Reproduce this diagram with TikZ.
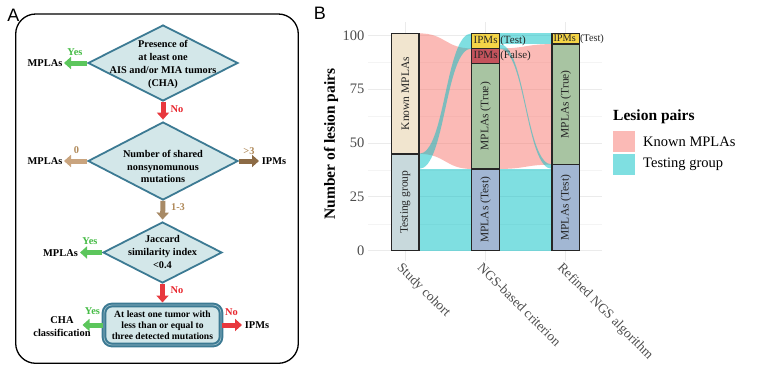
\documentclass[tikz,border=0pt]{standalone}
\usepackage{fontspec}
\setmainfont{Liberation Serif}
\setsansfont{Liberation Sans}
\usetikzlibrary{shapes.geometric,arrows.meta}
\definecolor{diafill}{HTML}{D3E7E9}
\definecolor{diaborder}{HTML}{3C7A93}
\definecolor{ygreen}{HTML}{45BB45}
\definecolor{agreen}{HTML}{5CC65C}
\definecolor{nred}{HTML}{E8262E}
\definecolor{ared}{HTML}{E8383E}
\definecolor{tant}{HTML}{B08A5A}
\definecolor{tanl}{HTML}{C9A47E}
\definecolor{tand}{HTML}{8C6B45}
\definecolor{tanm}{HTML}{A88A66}
\definecolor{pinkf}{HTML}{F8766D}
\definecolor{cyanf}{HTML}{00BFC4}
\definecolor{kmfill}{HTML}{F1E5CF}
\definecolor{tgfill}{HTML}{C8D9DC}
\definecolor{mtest}{HTML}{A2B7D3}
\definecolor{mtrue}{HTML}{A8C4A2}
\definecolor{ipfalse}{HTML}{C4535C}
\definecolor{iptest}{HTML}{F5D547}
\definecolor{axgray}{HTML}{4D4D4D}
\definecolor{gridmaj}{HTML}{EBEBEB}
\definecolor{gridmin}{HTML}{F4F4F4}
\begin{document}
\begin{tikzpicture}[x=1pt,y=-1pt,
  dia/.style={diamond, draw=diaborder, fill=diafill, line width=1.8pt, inner sep=0pt},
  dtxt/.style={font=\fontsize{10.3}{12.7}\selectfont\bfseries, align=center, inner sep=0pt},
  lbl/.style={font=\fontsize{10.4}{12.7}\selectfont\bfseries, align=center, inner sep=0pt},
  blockarrow/.style={line width=5pt, -{Triangle[width=12pt,length=7pt]}},
  garrow/.style={blockarrow, draw=agreen},
  rarrow/.style={blockarrow, draw=ared},
  yeslbl/.style={lbl, text=ygreen},
  nolbl/.style={lbl, text=nred},
  tanlbl/.style={lbl, text=tant},
  panellbl/.style={font=\sffamily\fontsize{18}{20}\selectfont, inner sep=0pt},
  gmajor/.style={draw=gridmaj, line width=0.9pt},
  gminor/.style={draw=gridmin, line width=0.6pt},
  ytick/.style={font=\fontsize{14.5}{16}\selectfont, text=axgray, inner sep=0pt, anchor=east},
  xlab/.style={font=\fontsize{13.5}{15}\selectfont, text=axgray, inner sep=0pt, rotate=-45, anchor=north west},
  bar/.style={draw=black!85, line width=1.4pt},
  barlbl/.style={font=\fontsize{11.5}{13}\selectfont, text=black!85, inner sep=0pt, rotate=90},
  smlbl/.style={font=\fontsize{11}{12}\selectfont, text=black!85, inner sep=0pt, anchor=west},
  pinkflow/.style={fill=pinkf, fill opacity=0.5},
  cyanflow/.style={fill=cyanf, fill opacity=0.5},
  leglbl/.style={font=\fontsize{14.5}{16}\selectfont, inner sep=0pt, anchor=west}
]
\useasboundingbox (0,0) rectangle (764,378);

% ================= Panel A =================
\node[panellbl] (labA) at (13.5,15.5) {A};
\draw[line width=1.3pt, rounded corners=20pt] (15.7,14) rectangle (298.3,363.3);

\node[dia, minimum width=150pt, minimum height=76pt] (d1) at (163,63) {};
\node[dtxt] (t1) at (163,64.5) {Presence of\\at least one\\AIS and/or MIA tumors\\(CHA)};

\node[dia, minimum width=150pt, minimum height=78pt] (d2) at (163,161) {};
\node[dtxt] (t2) at (163,166.5) {Number of shared\\nonsynomunous\\mutations};

\node[dia, minimum width=119pt, minimum height=61pt] (d3) at (162.5,252.5) {};
\node[dtxt] (t3) at (162.5,252) {Jaccard\\similarity index\\\textless0.4};

\node[draw=diaborder, fill=diafill, line width=2pt, double=diafill!60!diaborder, double distance=0.7pt,
      rounded corners=8pt, minimum width=117pt, minimum height=40pt, inner sep=0pt] (bx) at (162.5,325) {};
\node[dtxt, font=\fontsize{9.6}{11.3}\selectfont\bfseries] (tb) at (162.5,325.3) {At least one tumor with\\less than or equal to\\three detected mutations};

% side labels
\node[lbl] (m1) at (45,63.5) {MPLAs};
\node[yeslbl] (y1) at (75,52) {Yes};
\node[nolbl] (n1) at (177,109.5) {No};
\node[lbl] (m2) at (45,161.5) {MPLAs};
\node[tanlbl] (z2) at (76.5,150.5) {0};
\node[tanlbl] (g2) at (249,151) {\textgreater3};
\node[lbl] (i2) at (274,161.5) {IPMs};
\node[tanlbl] (r2) at (178,207) {1-3};
\node[lbl] (m3) at (60.5,253) {MPLAs};
\node[yeslbl] (y3) at (90,241.5) {Yes};
\node[nolbl] (n3) at (177,290.5) {No};
\node[yeslbl] (y4) at (92.5,311) {Yes};
\node[lbl] (c4) at (62,326.5) {CHA\\classification};
\node[nolbl] (n4) at (231.5,312.5) {No};
\node[lbl] (i4) at (257,325) {IPMs};

% arrow ends
\coordinate (e1) at (64,63);
\coordinate (e2) at (64,161);
\coordinate (e3) at (259,161);
\coordinate (e4) at (80,252.5);
\coordinate (e5) at (82.5,325);
\coordinate (e6) at (242,325);

\draw[garrow] (d1.west) -- (e1);
\draw[rarrow, shorten >=1.5pt] (d1.south) -- (d2.north);
\draw[blockarrow, draw=tanl] (d2.west) -- (e2);
\draw[blockarrow, draw=tand] (d2.east) -- (e3);
\draw[blockarrow, draw=tanm, shorten >=1.5pt] (d2.south) -- (d3.north);
\draw[garrow] (d3.west) -- (e4);
\draw[rarrow, shorten >=1.5pt] (d3.south) -- (bx.north);
\draw[garrow] (bx.west) -- (e5);
\draw[rarrow] (bx.east) -- (e6);

% ================= Panel B =================
\node[panellbl] (labB) at (320,13.7) {B};

\begin{scope}[shift={(0pt,-250.7pt)}, y={(0pt,2.152pt)}]
  % grid
  \foreach \v in {12.5,37.5,62.5,87.5} \draw[gminor] (368,\v) -- (602,\v);
  \foreach \v in {0,25,50,75,100} \draw[gmajor] (368,\v) -- (602,\v);
  \foreach \x in {405.3,485.5,565.8} \draw[gmajor] (\x,-4.6) -- (\x,106.3);
  \foreach \v in {0,25,50,75,100} \node[ytick] (yt\v) at (364.5,\v) {\v};

  % flows: study cohort -> NGS
  \fill[pinkflow] (419,101) .. controls (445.35,101) and (445.35,94) .. (471.7,94)
      -- (471.7,38) .. controls (445.35,38) and (445.35,45) .. (419,45) -- cycle;
  \fill[cyanflow] (419,0) rectangle (471.7,38);
  \fill[cyanflow] (419,45) .. controls (445.35,45) and (445.35,101) .. (471.7,101)
      -- (471.7,94) .. controls (445.35,94) and (445.35,38) .. (419,38) -- cycle;
  % flows: NGS -> refined
  \fill[pinkflow] (499.3,94) .. controls (525.65,94) and (525.65,96) .. (552,96)
      -- (552,40) .. controls (525.65,40) and (525.65,38) .. (499.3,38) -- cycle;
  \fill[cyanflow] (499.3,0) rectangle (552,38);
  \fill[cyanflow] (499.3,96) .. controls (525.65,96) and (525.65,40) .. (552,40)
      -- (552,38) .. controls (525.65,38) and (525.65,94) .. (499.3,94) -- cycle;
  \fill[cyanflow] (499.3,96) rectangle (552,101);

  % bars: study cohort
  \draw[bar, fill=tgfill] (391.7,0) rectangle (419,45);
  \draw[bar, fill=kmfill] (391.7,45) rectangle (419,101);
  \node[barlbl] (bk) at (405.3,73) {Known MPLAs};
  \node[barlbl] (bt) at (405.3,22.5) {Testing group};
  % bars: NGS
  \draw[bar, fill=mtest] (471.7,0) rectangle (499.3,38);
  \draw[bar, fill=mtrue] (471.7,38) rectangle (499.3,87);
  \draw[bar, fill=ipfalse] (471.7,87) rectangle (499.3,94);
  \draw[bar, fill=iptest] (471.7,94) rectangle (499.3,101);
  \node[barlbl] (nt) at (485.5,62.5) {MPLAs (True)};
  \node[barlbl] (ns) at (485.5,19) {MPLAs (Test)};
  \node[smlbl] (ni) at (473.5,97.5) {IPMs (Test)};
  \node[smlbl] (nf) at (473.5,90.5) {IPMs (False)};
  % bars: refined
  \draw[bar, fill=mtest] (552,0) rectangle (579.7,40);
  \draw[bar, fill=mtrue] (552,40) rectangle (579.7,96);
  \draw[bar, fill=iptest] (552,96) rectangle (579.7,101);
  \node[barlbl] (rt) at (565.8,68) {MPLAs (True)};
  \node[barlbl] (rs) at (565.8,20) {MPLAs (Test)};
  \node[smlbl, font=\fontsize{10.3}{12}\selectfont] (ri) at (553.3,98.5) {IPMs\hspace{4.2pt}(Test)};
\end{scope}

% axis titles and x labels
\node[font=\fontsize{15.5}{17}\selectfont\bfseries, rotate=90, inner sep=0pt] (ytitle) at (331,144) {Number of lesion pairs};
\node[xlab] (x1) at (403.3,261.5) {Study cohort};
\node[xlab] (x2) at (483.5,261.5) {NGS-based criterion};
\node[xlab] (x3) at (563.8,261.5) {Refined NGS algorithm};

% legend
\node[font=\fontsize{15.5}{17}\selectfont\bfseries, inner sep=0pt, anchor=west] (legt) at (613,116.7) {Lesion pairs};
\fill[pinkflow] (613,131) rectangle (635,152);
\fill[cyanflow] (613,154) rectangle (635,175);
\node[leglbl] (lk) at (643,141.5) {Known MPLAs};
\node[leglbl] (lt) at (643,164.5) {Testing group};
\end{tikzpicture}
\end{document}
